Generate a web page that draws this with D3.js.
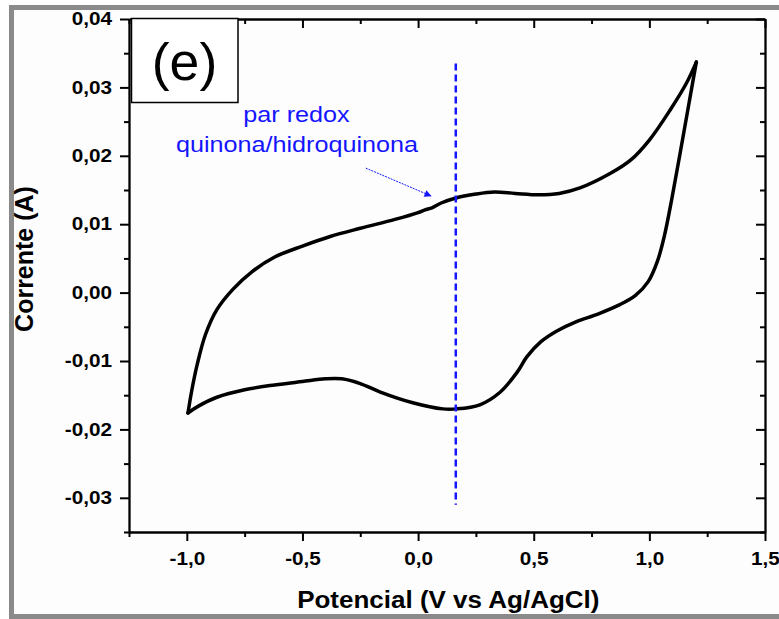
<!DOCTYPE html>
<html>
<head>
<meta charset="utf-8">
<script src="https://cdn.jsdelivr.net/npm/d3@7"></script>
<style>
  html, body { margin: 0; padding: 0; background: #fff; }
  svg { display: block; }
</style>
</head>
<body>
<div id="chart"></div>
<script>
// Cyclic voltammogram, panel (e)
// anodic sweep: -1.0 V -> 1.2 V
const forwardV = [-0.995, -0.978, -0.955, -0.92, -0.87, -0.80, -0.72, -0.62, -0.50, -0.38, -0.25, -0.10, 0.0, 0.03, 0.06, 0.10, 0.16, 0.25, 0.33, 0.42, 0.52, 0.61, 0.70, 0.83, 0.92, 1.0, 1.09, 1.16, 1.203];
const forwardI = [-0.0176, -0.0142, -0.0105, -0.0062, -0.0025, 0.0005, 0.0030, 0.0052, 0.0068, 0.0082, 0.0094, 0.0107, 0.0117, 0.0121, 0.0124, 0.0131, 0.0138, 0.0144, 0.0147, 0.0145, 0.0143, 0.0145, 0.0153, 0.0174, 0.0194, 0.0223, 0.0267, 0.0306, 0.0337];
// cathodic sweep: 1.2 V -> -1.0 V
const reverseV = [1.203, 1.152, 1.096, 1.065, 1.035, 0.995, 0.94, 0.87, 0.78, 0.68, 0.60, 0.53, 0.47, 0.427, 0.353, 0.267, 0.167, 0.107, -0.023, -0.166, -0.25, -0.33, -0.40, -0.50, -0.62, -0.75, -0.87, -0.95, -0.995];
const reverseI = [0.0337, 0.0240, 0.0135, 0.0083, 0.0046, 0.0016, -0.0004, -0.0018, -0.0031, -0.0043, -0.0056, -0.0072, -0.0094, -0.0117, -0.0146, -0.0164, -0.0170, -0.0170, -0.0161, -0.0145, -0.0133, -0.0126, -0.0126, -0.0130, -0.0135, -0.0142, -0.0153, -0.0166, -0.0176];

const xTicks = [-1.0, -0.5, 0.0, 0.5, 1.0, 1.5];
const xMinor = [-1.25, -0.75, -0.25, 0.25, 0.75, 1.25];
const yTicks = [-0.03, -0.02, -0.01, 0.0, 0.01, 0.02, 0.03, 0.04];
const yMinor = [-0.035, -0.025, -0.015, -0.005, 0.005, 0.015, 0.025, 0.035];

const redoxV = 0.163;
const redoxRange = [-0.031, 0.0335];
const arrowFrom = [-0.226, 0.0182];
const arrowTo = [0.058, 0.0141];
const noteLines = ['par redox', 'quinona/hidroquinona'];

const W = 779, H = 619;
const margin = { top: 19, right: 14, bottom: 87, left: 129 };
const iw = W - margin.left - margin.right;
const ih = H - margin.top - margin.bottom;
const FONT = 'Arial, "Liberation Sans", sans-serif';
const BLUE = '#1414ff';

const svg = d3.select('#chart').append('svg')
  .attr('width', W).attr('height', H);

// grey outer frame
svg.append('rect')
  .attr('x', 11.5).attr('y', 7.5)
  .attr('width', 820).attr('height', 609)
  .attr('fill', '#fdfdfd')
  .attr('stroke', '#8a8a8a')
  .attr('stroke-width', 5);

const g = svg.append('g').attr('transform', `translate(${margin.left},${margin.top})`);

const x = d3.scaleLinear().domain([-1.25, 1.5]).range([0, iw]);
const y = d3.scaleLinear().domain([-0.035, 0.04]).range([ih, 0]);

// comma decimals, plain hyphen for minus
const ptBR = d3.formatLocale({ decimal: ',', thousands: '.', grouping: [3], currency: ['', ''], minus: '-' });
const fmt = ptBR.format('.1f');
const fmtY = ptBR.format('.2f');

// stretch helper: the reference text is a bit wider than the font
function stretch(sel, k) {
  sel.each(function() {
    const w = this.getComputedTextLength();
    d3.select(this).attr('textLength', w * k).attr('lengthAdjust', 'spacingAndGlyphs');
  });
}

function styleAxis(a) {
  a.select('.domain').attr('stroke', '#000').attr('stroke-width', 2.3);
  a.selectAll('.tick line').attr('stroke', '#000').attr('stroke-width', 2);
  a.selectAll('.tick text')
    .attr('fill', '#000')
    .style('font-family', FONT)
    .style('font-size', '18px')
    .style('font-weight', 'bold');
}

// major axes
const axB = g.append('g').attr('transform', `translate(0,${ih})`)
  .call(d3.axisBottom(x).tickValues(xTicks).tickFormat(fmt).tickSize(9).tickSizeOuter(0).tickPadding(11));
const axL = g.append('g')
  .call(d3.axisLeft(y).tickValues(yTicks).tickFormat(fmtY).tickSize(9).tickSizeOuter(0).tickPadding(8));
const axT = g.append('g')
  .call(d3.axisTop(x).tickValues(xTicks).tickFormat('').tickSize(-9).tickSizeOuter(0));
const axR = g.append('g').attr('transform', `translate(${iw},0)`)
  .call(d3.axisRight(y).tickValues(yTicks).tickFormat('').tickSize(-9).tickSizeOuter(0));
[axB, axL, axT, axR].forEach(styleAxis);
stretch(axB.selectAll('.tick text'), 1.15);
stretch(axL.selectAll('.tick text'), 1.15);

// minor ticks
[
  g.append('g').attr('transform', `translate(0,${ih})`).call(d3.axisBottom(x).tickValues(xMinor).tickFormat('').tickSize(5)),
  g.append('g').call(d3.axisLeft(y).tickValues(yMinor).tickFormat('').tickSize(5)),
  g.append('g').call(d3.axisTop(x).tickValues(xMinor).tickFormat('').tickSize(-5)),
  g.append('g').attr('transform', `translate(${iw},0)`).call(d3.axisRight(y).tickValues(yMinor).tickFormat('').tickSize(-5))
].forEach(a => {
  a.select('.domain').remove();
  a.selectAll('.tick line').attr('stroke', '#000').attr('stroke-width', 2);
});

// voltammogram
const line = d3.line()
  .x(d => x(d[0])).y(d => y(d[1]))
  .curve(d3.curveCatmullRom.alpha(0.5));

[[forwardV, forwardI], [reverseV, reverseI]].forEach(([vs, is]) => {
  g.append('path')
    .datum(vs.map((v, i) => [v, is[i]]))
    .attr('d', line)
    .attr('fill', 'none')
    .attr('stroke', '#000')
    .attr('stroke-width', 3.5)
    .attr('stroke-linejoin', 'round')
    .attr('stroke-linecap', 'round');
});

// redox marker line
g.append('line')
  .attr('x1', x(redoxV)).attr('x2', x(redoxV))
  .attr('y1', y(redoxRange[1])).attr('y2', y(redoxRange[0]))
  .attr('stroke', BLUE)
  .attr('stroke-width', 2.5)
  .attr('stroke-dasharray', '7,4');

// arrow
svg.append('defs').append('marker')
  .attr('id', 'head')
  .attr('viewBox', '0 0 10 10')
  .attr('refX', 10).attr('refY', 5)
  .attr('markerWidth', 10).attr('markerHeight', 7)
  .attr('markerUnits', 'userSpaceOnUse')
  .attr('orient', 'auto')
  .append('path').attr('d', 'M0,0 L10,5 L0,10 Z').attr('fill', BLUE);

g.append('line')
  .attr('x1', x(arrowFrom[0])).attr('y1', y(arrowFrom[1]))
  .attr('x2', x(arrowTo[0])).attr('y2', y(arrowTo[1]))
  .attr('stroke', BLUE)
  .attr('stroke-width', 1)
  .attr('stroke-dasharray', '2,1')
  .attr('marker-end', 'url(#head)');

// annotation text
const note = svg.append('g')
  .style('font-family', FONT)
  .style('font-size', '21.5px')
  .attr('fill', BLUE)
  .attr('text-anchor', 'middle');
note.append('text').attr('x', 296.5).attr('y', 121.5).text(noteLines[0]);
note.append('text').attr('x', 297).attr('y', 152.3).text(noteLines[1]);
stretch(note.selectAll('text'), 1.17);

// panel label
svg.append('rect')
  .attr('x', 131.5).attr('y', 18.5)
  .attr('width', 106.5).attr('height', 84)
  .attr('fill', '#fff')
  .attr('stroke', '#000')
  .attr('stroke-width', 1.5);
const lbl = svg.append('text')
  .attr('x', 184.5).attr('y', 80)
  .attr('text-anchor', 'middle')
  .style('font-family', FONT)
  .style('font-size', '51px')
  .attr('fill', '#000')
  .text('(e)');
stretch(lbl, 1.05);

// axis titles
const xt = svg.append('text')
  .attr('x', 448.3).attr('y', 608.3)
  .attr('text-anchor', 'middle')
  .style('font-family', FONT)
  .style('font-size', '23px')
  .style('font-weight', 'bold')
  .text('Potencial (V vs Ag/AgCl)');
stretch(xt, 1.13);

svg.append('text')
  .attr('transform', 'translate(33,259) rotate(-90)')
  .attr('text-anchor', 'middle')
  .style('font-family', FONT)
  .style('font-size', '25px')
  .style('font-weight', 'bold')
  .text('Corrente (A)');
</script>
</body>
</html>
